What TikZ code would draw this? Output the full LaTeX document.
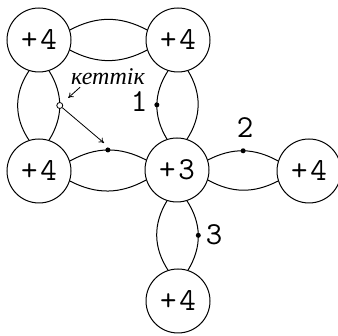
\documentclass[tikz,border=0pt]{standalone}
\usepackage{fontspec}
\usetikzlibrary{arrows.meta}
\newfontfamily\lblfont{Liberation Serif}
\newcommand{\chg}[1]{+\kern3pt#1}
\begin{document}
\begin{tikzpicture}[x=1pt,y=1pt,
  atom/.style={circle,draw,line width=1pt,minimum size=64pt,inner sep=0pt,font=\ttfamily\fontsize{32}{32}\selectfont},
  arc/.style={line width=1pt},
  dotf/.style={circle,fill,inner sep=0pt,minimum size=5pt},
  doto/.style={circle,draw,fill=white,line width=0.8pt,inner sep=0pt,minimum size=6pt},
  num/.style={font=\ttfamily\fontsize{32}{32}\selectfont,inner sep=0pt},
  arr/.style={-{To[length=5pt,width=6pt]},line width=0.8pt}]
\useasboundingbox (0,0) rectangle (338,336);
\node[atom] (TL) at (39,296) {\chg4};
\node[atom] (TR) at (178,296) {\chg4};
\node[atom] (BL) at (39,165) {\chg4};
\node[atom] (C) at (177,166) {\chg3};
\node[atom] (R) at (309,165) {\chg4};
\node[atom] (B) at (178,35) {\chg4};
% TL-TR
\draw[arc] (TL.18) to[bend left=28] (TR.162);
\draw[arc] (TL.-18) to[bend right=28] (TR.198);
% TL-BL
\draw[arc] (TL.252) to[bend right=34] (BL.108);
\draw[arc] (TL.288) to[bend left=32] node[pos=.5,doto] (oc) {} (BL.72);
% TR-C
\draw[arc] (TR.252) to[bend right=32] node[pos=.5,dotf] (d1) {} (C.108);
\draw[arc] (TR.288) to[bend left=32] (C.72);
% BL-C
\draw[arc] (BL.18) to[bend left=28] node[pos=.5,dotf] (d4) {} (C.162);
\draw[arc] (BL.-18) to[bend right=28] (C.198);
% C-R
\draw[arc] (C.18) to[bend left=28] node[pos=.5,dotf] (d2) {} (R.162);
\draw[arc] (C.-18) to[bend right=28] (R.198);
% C-B
\draw[arc] (C.252) to[bend right=32] (B.108);
\draw[arc] (C.288) to[bend left=32] node[pos=.5,dotf] (d3) {} (B.72);
% labels
\node[num] (n1) at (139,234) {1};
\node[num] (n2) at (245,208) {2};
\node[num] (n3) at (214,101) {3};
\node[inner sep=0pt,font=\lblfont\itshape\fontsize{24}{24}\selectfont] (lbl) at (108,259) {кеттік};
\coordinate (tip) at (104,193);
\draw[arr,shorten >=8pt] ([xshift=9pt,yshift=-2pt]lbl.south west) -- (oc);
\draw[arr] (oc) -- (tip);
\end{tikzpicture}
\end{document}
